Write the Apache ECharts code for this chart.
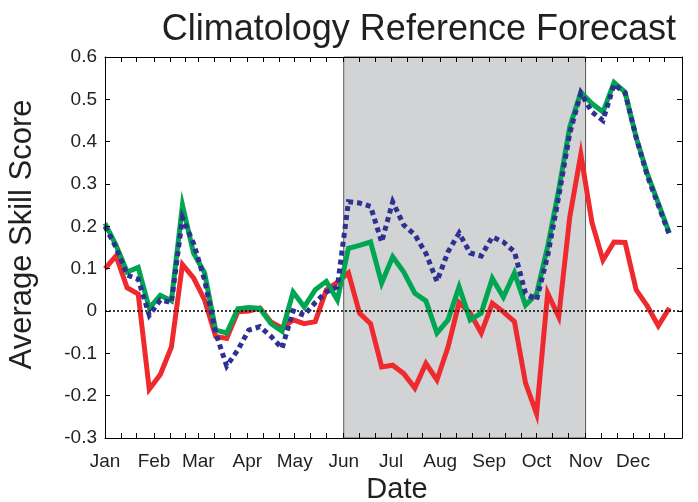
<!DOCTYPE html>
<html>
<head>
<meta charset="utf-8">
<script src="https://cdn.jsdelivr.net/npm/echarts@6/dist/echarts.min.js"></script>
<style>
html,body{margin:0;padding:0;background:#fff;}
#chart{width:698px;height:502px;}
</style>
</head>
<body>
<div id="chart"></div>
<script>
// Day of year for each weekly point
const days = [0,7,14,21,28,35,42,49,56,63,70,77,84,91,98,105,112,119,126,133,140,147,154,161,168,175,182,189,196,203,210,217,224,231,238,245,252,259,266,273,280,287,294,301,308,315,322,329,336,343,350,357];

const redValues = [0.10,0.13,0.055,0.04,-0.185,-0.15,-0.085,0.11,0.078,0.026,-0.06,-0.065,-0.002,0.0,0.007,-0.026,-0.04,-0.021,-0.03,-0.025,0.05,0.068,0.09,-0.005,-0.03,-0.132,-0.128,-0.148,-0.182,-0.124,-0.163,-0.085,0.02,-0.005,-0.052,0.018,-0.002,-0.025,-0.17,-0.243,0.042,-0.014,0.222,0.37,0.21,0.12,0.163,0.162,0.05,0.012,-0.035,0.007];

const greenValues = [0.207,0.155,0.092,0.103,0.007,0.037,0.024,0.25,0.137,0.09,-0.045,-0.052,0.005,0.008,0.006,-0.03,-0.048,0.045,0.01,0.05,0.07,0.026,0.148,0.155,0.163,0.066,0.128,0.092,0.042,0.024,-0.052,-0.021,0.057,-0.021,-0.005,0.077,0.033,0.09,0.014,0.04,0.152,0.286,0.435,0.517,0.49,0.47,0.54,0.517,0.41,0.325,0.255,0.184];

const blueValues = [0.2,0.15,0.085,0.075,-0.01,0.026,0.02,0.22,0.16,0.073,-0.052,-0.13,-0.092,-0.045,-0.037,-0.06,-0.088,0.0,-0.01,0.02,0.045,0.057,0.258,0.255,0.247,0.163,0.258,0.203,0.18,0.136,0.07,0.14,0.184,0.137,0.13,0.175,0.163,0.14,0.042,0.026,0.13,0.27,0.42,0.515,0.47,0.45,0.535,0.515,0.41,0.32,0.25,0.18];

const monthLabels = ['Jan','Feb','Mar','Apr','May','Jun','Jul','Aug','Sep','Oct','Nov','Dec'];
const monthStarts = [0,31,59,90,120,151,181,212,243,273,304,334];
const tickDays = [0,10,20,31,41,51,59,69,79,90,100,110,120,130,140,151,161,171,181,191,201,212,222,232,243,253,263,273,283,293,304,314,324,334,344,354,365];
const yTicks = [-0.3,-0.2,-0.1,0,0.1,0.2,0.3,0.4,0.5,0.6];
const shadeRange = [151,304];

const FONT = 'Liberation Sans, Arial, Helvetica, sans-serif';
const TXT = '#231F20';

function pairs(vals){ return days.map((d,i)=>[d, vals[i]]); }

const chart = echarts.init(document.getElementById('chart'), null, {renderer:'canvas'});

const xCommon = {
  type:'value', min:0, max:365,
  splitLine:{show:false},
  axisLine:{show:true, onZero:false, lineStyle:{color:'#000', width:1}},
  axisTick:{show:true, inside:true, length:5, customValues:tickDays, lineStyle:{color:'#000', width:1}},
  z:10
};
const yCommon = {
  type:'value', min:-0.3, max:0.6, interval:0.1,
  splitLine:{show:false},
  axisLine:{show:true, onZero:false, lineStyle:{color:'#000', width:1}},
  axisTick:{show:true, inside:true, length:5, lineStyle:{color:'#000', width:1}},
  z:10
};

chart.setOption({
  animation:false,
  backgroundColor:'#fff',
  title:{
    text:'Climatology Reference Forecast',
    right:17, top:7,
    textStyle:{fontFamily:FONT, fontSize:36, fontWeight:'normal', color:TXT}
  },
  grid:{left:105, right:16, top:57, bottom:64, containLabel:false, outerBoundsMode:'none'},
  xAxis:[
    Object.assign({}, xCommon, {
      position:'bottom',
      name:'Date', nameLocation:'middle', nameGap:35,
      nameTextStyle:{fontFamily:FONT, fontSize:29, color:TXT, padding:[0,0,0,7]},
      axisLabel:{show:true, customValues:monthStarts, margin:14,
        fontFamily:FONT, fontSize:19, color:TXT,
        formatter:function(v){ const k = monthStarts.indexOf(Math.round(v)); return k>=0 ? monthLabels[k] : ''; }}
    }),
    Object.assign({}, xCommon, {
      position:'top',
      axisLabel:{show:false}
    })
  ],
  yAxis:[
    Object.assign({}, yCommon, {
      position:'left',
      name:'Average Skill Score', nameLocation:'middle', nameGap:67,
      nameTextStyle:{fontFamily:FONT, fontSize:31, color:TXT, padding:[0,0,0,26]},
      axisLabel:{show:true, margin:8, fontFamily:FONT, fontSize:19, color:TXT,
        formatter:function(v){ const r = Math.round(v*10)/10; return (r===0)?'0':r.toFixed(1); }}
    }),
    Object.assign({}, yCommon, {
      position:'right',
      axisLabel:{show:false}
    })
  ],
  series:[
    {
      type:'line', data:[], xAxisIndex:0, yAxisIndex:0, z:1, silent:true,
      markArea:{
        silent:true,
        itemStyle:{color:'#D1D3D4', borderColor:'#58595B', borderWidth:1},
        data:[[{xAxis:shadeRange[0]},{xAxis:shadeRange[1]}]]
      }
    },
    {
      type:'line', data:[], xAxisIndex:0, yAxisIndex:0, z:2, silent:true,
      markLine:{
        silent:true, symbol:['none','none'], label:{show:false},
        lineStyle:{type:[2,2], color:'#000', width:1.5},
        data:[{yAxis:0}]
      }
    },
    {
      name:'red', type:'line', data:pairs(redValues), z:3,
      showSymbol:false, symbol:'none',
      lineStyle:{color:'#EE2A2F', width:5, join:'miter', cap:'butt'}
    },
    {
      name:'green', type:'line', data:pairs(greenValues), z:4,
      showSymbol:false, symbol:'none',
      lineStyle:{color:'#00A651', width:5, join:'miter', cap:'butt'}
    },
    {
      name:'blue', type:'line', data:pairs(blueValues), z:5,
      showSymbol:false, symbol:'none',
      lineStyle:{color:'#2E3192', width:5, type:[5,4], join:'miter', cap:'butt'}
    }
  ]
});
</script>
</body>
</html>
